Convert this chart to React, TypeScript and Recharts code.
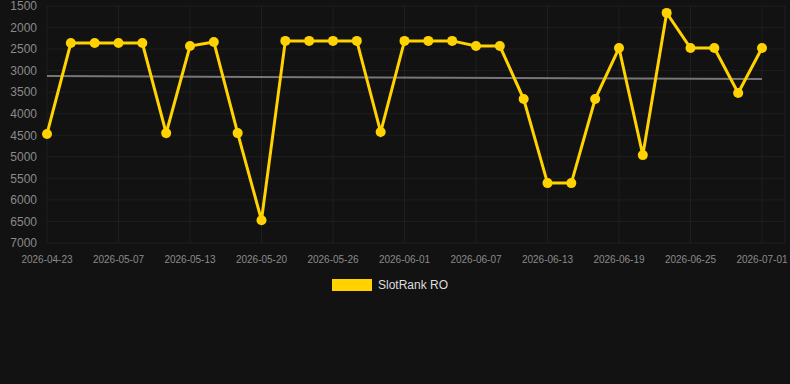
import { LineChart, Line, XAxis, YAxis, CartesianGrid } from 'recharts';

const dates = [
  '2026-04-23', '2026-04-28', '2026-05-03', '2026-05-07', '2026-05-09', '2026-05-11',
  '2026-05-13', '2026-05-15', '2026-05-17', '2026-05-20', '2026-05-22', '2026-05-24',
  '2026-05-26', '2026-05-28', '2026-05-30', '2026-06-01', '2026-06-03', '2026-06-05',
  '2026-06-07', '2026-06-09', '2026-06-11', '2026-06-13', '2026-06-15', '2026-06-17',
  '2026-06-19', '2026-06-21', '2026-06-23', '2026-06-25', '2026-06-27', '2026-06-29',
  '2026-07-01',
];

const rank = [
  4470, 2360, 2360, 2360, 2360, 4450, 2430, 2335, 4450, 6470, 2310,
  2310, 2310, 2310, 4425, 2310, 2310, 2310, 2430, 2430, 3660, 5610,
  5610, 3660, 2475, 4960, 1660, 2475, 2475, 3520, 2475,
];

// trend line endpoints (first and last category)
const trendStart = 3125;
const trendEnd = 3195;

const yTicks = [1500, 2000, 2500, 3000, 3500, 4000, 4500, 5000, 5500, 6000, 6500, 7000];

const data = dates.map((d, i) => ({
  date: d,
  rank: rank[i],
  trend: i === 0 ? trendStart : i === dates.length - 1 ? trendEnd : null,
}));

const GOLD = '#FFD200';

export default function App() {
  return (
    <div
      style={{
        position: 'absolute',
        left: 0,
        top: 0,
        width: 790,
        height: 384,
        background: '#121212',
        fontFamily: 'Arial, "Liberation Sans", sans-serif',
      }}
    >
      <LineChart
        width={790}
        height={270}
        data={data}
        margin={{ top: 6, right: 5, left: 0, bottom: 5 }}
      >
        <CartesianGrid stroke="#1f1f1f" strokeWidth={1} />
        <XAxis
          dataKey="date"
          interval={2}
          axisLine={false}
          tickLine={false}
          height={22}
          padding={{ left: 0, right: 23 }}
          tick={{ fill: '#8a8a8a', fontSize: 10 }}
          tickMargin={7}
        />
        <YAxis
          reversed
          domain={[1500, 7000]}
          ticks={yTicks}
          interval={0}
          width={47}
          axisLine={false}
          tickLine={false}
          tick={{ fill: '#8a8a8a', fontSize: 12 }}
          tickMargin={4}
        />
        <Line
          dataKey="trend"
          stroke="#777777"
          strokeWidth={2}
          dot={false}
          connectNulls
          isAnimationActive={false}
        />
        <Line
          dataKey="rank"
          stroke={GOLD}
          strokeWidth={3}
          dot={{ r: 5, fill: GOLD, stroke: GOLD, strokeWidth: 0 }}
          isAnimationActive={false}
        />
      </LineChart>
      <div
        style={{
          position: 'absolute',
          top: 278,
          left: 0,
          width: 790,
          display: 'flex',
          justifyContent: 'center',
          alignItems: 'center',
          fontSize: 12,
          color: '#dddddd',
        }}
      >
        <div style={{ width: 40, height: 12, background: GOLD, marginRight: 6 }} />
        <span style={{ paddingRight: 10 }}>SlotRank RO</span>
      </div>
    </div>
  );
}
